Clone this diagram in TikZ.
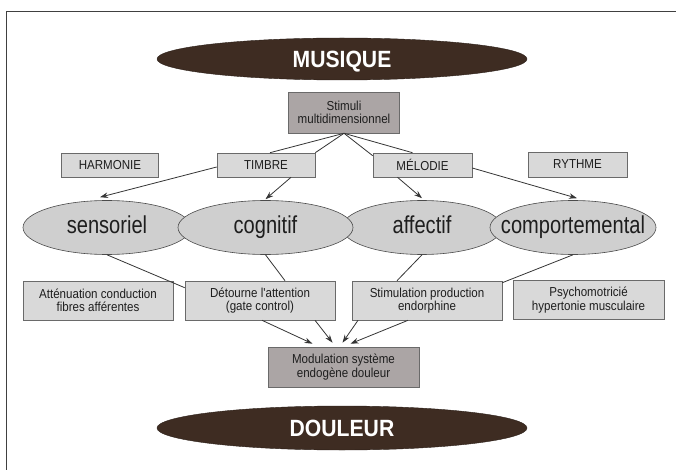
\documentclass[tikz,border=0pt]{standalone}
\usepackage{fontspec}
\setmainfont{Liberation Sans}
\newfontfamily\boxfont{Liberation Sans}[FakeStretch=0.89]
\newfontfamily\ellfont{Liberation Sans}[FakeStretch=0.82]
\newfontfamily\titlefont{Liberation Sans}[FakeStretch=0.9]
\usetikzlibrary{calc,arrows.meta,shapes.geometric}
\definecolor{boxfill}{HTML}{D9D9D9}
\definecolor{darkfill}{HTML}{ABA5A5}
\definecolor{ellfill}{HTML}{CFCFCF}
\definecolor{brownfill}{HTML}{3E2C22}
\definecolor{edge}{HTML}{6A6A6A}
\definecolor{ink}{HTML}{1E1E1E}
\begin{document}
\begin{tikzpicture}[x=1pt,y=-1pt,
  lightbox/.style={draw=edge, line width=0.6pt, fill=boxfill, rectangle, inner sep=0pt,
    align=center, text=ink, font=\boxfont\fontsize{13}{13.5}\selectfont},
  darkbox/.style={lightbox, fill=darkfill},
  oval/.style={draw=ink!80, line width=0.6pt, fill=ellfill, ellipse, inner sep=0pt,
    minimum height=54pt, text height=17pt, text depth=5pt, text=ink,
    font=\ellfont\fontsize{24.5}{26}\selectfont},
  bigoval/.style={ellipse, fill=brownfill, draw=brownfill!70!black, inner sep=0pt, minimum width=370pt,
    text height=20pt, text depth=3pt,
    text=white, font=\titlefont\bfseries\fontsize{23.5}{25}\selectfont},
  link/.style={draw=ink!90, line width=0.8pt},
  arr/.style={link, -{Stealth[length=8pt,width=5.5pt]}}
]
\useasboundingbox (0,0) rectangle (676,470);
\fill[white] (0,0) rectangle (676,470);
% frame
\coordinate (fbl) at (6.5,470);
\coordinate (ftl) at (6.5,11.5);
\coordinate (ftr) at (676,11.5);
\draw[line width=1.5pt, ink!85] (fbl) -- (ftl) -- (ftr);

% title ovals
\node[bigoval, minimum height=42pt] (musique) at (342,59) {\makebox[0pt]{MUSIQUE}};
\node[bigoval, minimum height=44pt] (douleur) at (342,428) {\makebox[0pt]{DOULEUR}};

% top boxes
\node[darkbox, minimum width=111pt, minimum height=41pt] (stim) at (344,112.5) {Stimuli\\multidimensionnel};
\node[lightbox, minimum width=97pt, minimum height=24pt] (harm) at (110,165) {HARMONIE};
\node[lightbox, minimum width=98pt, minimum height=24pt] (timb) at (266,165) {TIMBRE};
\node[lightbox, minimum width=99pt, minimum height=24pt] (melo) at (422.5,165) {MÉLODIE};
\node[lightbox, minimum width=99pt, minimum height=25pt] (ryth) at (577.5,164.5) {RYTHME};

% ovals
\node[oval, minimum width=168pt] (sens) at (107,227.5) {\makebox[0pt]{sensoriel}};
\node[oval, minimum width=160pt] (affe) at (422,227.5) {\makebox[0pt]{affectif}};
\node[oval, minimum width=175pt] (cogn) at (265.5,227.5) {\makebox[0pt]{cognitif}};
\node[oval, minimum width=166pt] (comp) at (573,227.5) {\makebox[0pt]{comportemental}};

% bottom boxes
\node[lightbox, minimum width=150pt, minimum height=39pt] (att) at (98,300.5) {Atténuation conduction\\fibres afférentes};
\node[lightbox, minimum width=150pt, minimum height=39pt] (det) at (260,300.5) {Détourne l'attention\\(gate control)};
\node[lightbox, minimum width=150pt, minimum height=39pt] (stimu) at (427,300.5) {Stimulation production\\endorphine};
\node[lightbox, minimum width=151pt, minimum height=39pt] (psy) at (588.5,300) {Psychomotricié\\hypertonie musculaire};
\node[darkbox, minimum width=151pt, minimum height=40pt] (mod) at (343.5,367) {Modulation système\\endogène douleur};

% stimuli lines
\draw[link] (stim.south) -- ($(timb.north)+(4,0)$);
\draw[link] (stim.south) -- (timb.north east);
\draw[link] (stim.south) -- ($(melo.north west)+(0,3)$);
\draw[link] (stim.south) -- ($(melo.north)+(-10,0)$);

% arrows to ovals
\draw[arr] ($(timb.west)+(0,2)$) -- ($(sens.north)+(-7,-3)$);
\draw[arr] ($(timb.south)+(25,0)$) -- ($(cogn.north)+(0,-1)$);
\draw[arr] ($(melo.south)+(-25,0)$) -- ($(affe.north)+(0,-2)$);
\draw[arr] ($(melo.east)+(0,3)$) -- ($(comp.north)+(4,-2)$);

% ovals to boxes
\draw[link] (sens.south) -- ($(det.north west)+(0,7)$);
\draw[link] (cogn.south) -- ($(det.north)+(25,0)$);
\draw[link] (affe.south) -- ($(stimu.north)+(-30,0)$);
\draw[link] (comp.south) -- ($(stimu.north east)+(0,2)$);

% arrows to modulation
\draw[arr] ($(det.south)+(2,0)$) -- ($(mod.north)+(-31,-3)$);
\draw[arr] ($(det.south)+(55,0)$) -- ($(mod.north)+(-11,-4)$);
\draw[arr] ($(stimu.south)+(-69,0)$) -- ($(mod.north)+(-1,-4)$);
\draw[arr] ($(stimu.south)+(-19,0)$) -- ($(mod.north)+(7,-3)$);
\end{tikzpicture}
\end{document}
